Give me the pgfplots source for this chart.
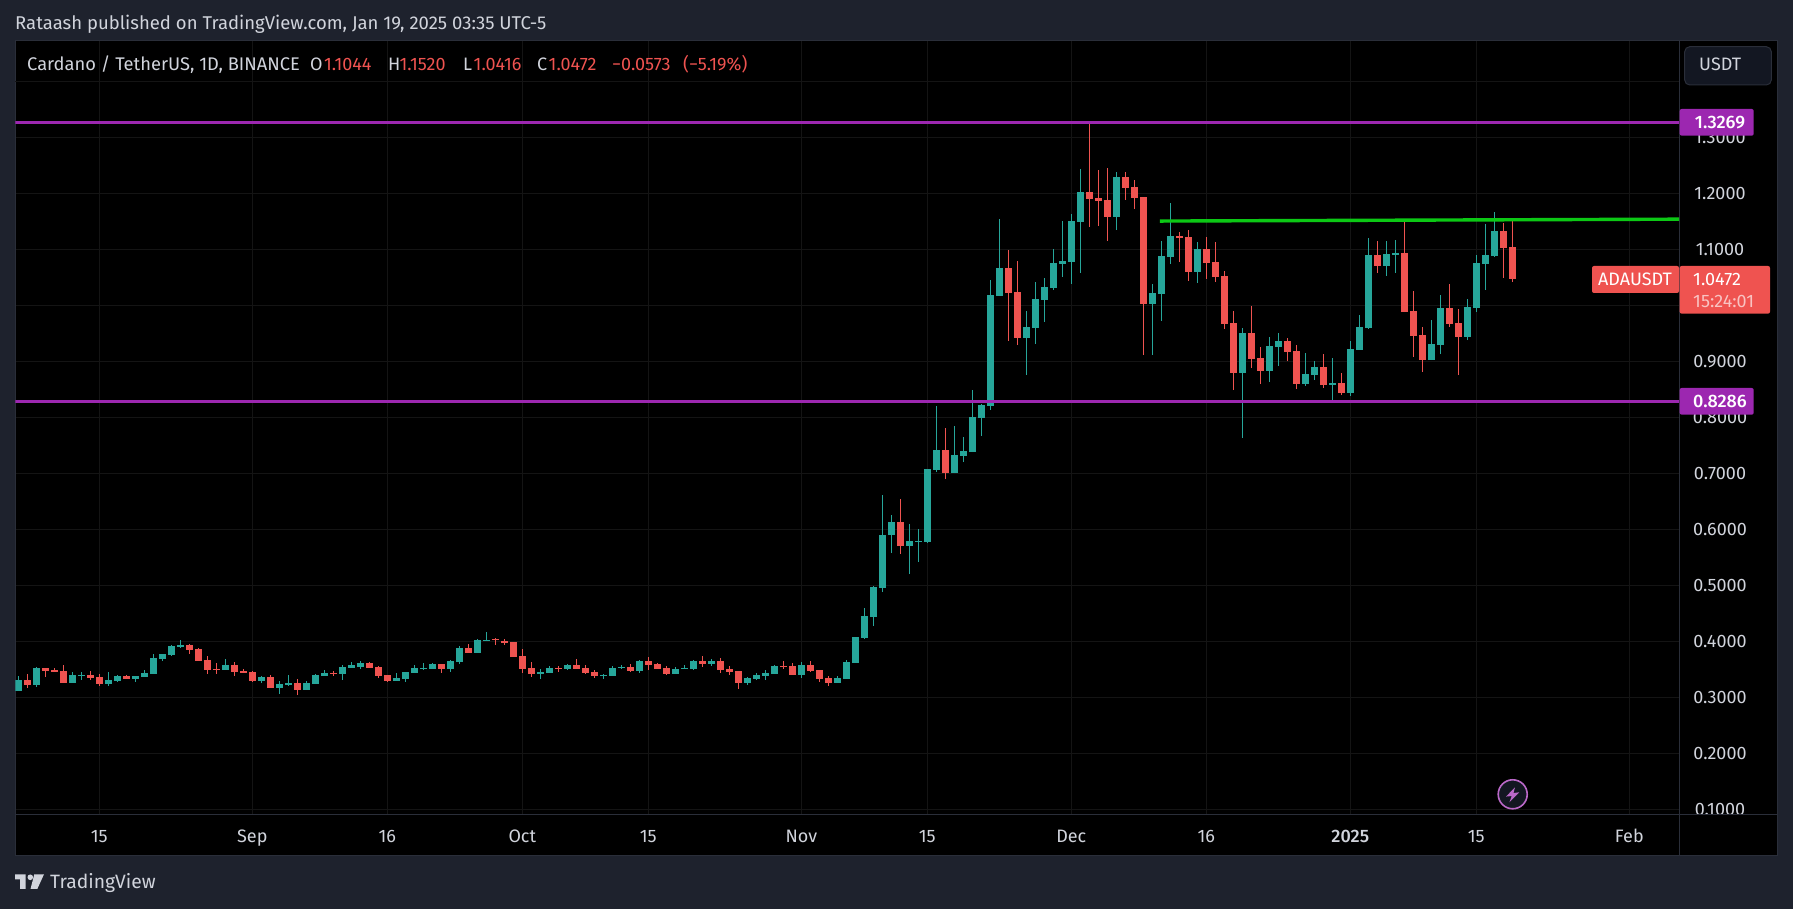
\documentclass[border=0pt]{standalone}
\usepackage{fontspec}
\setmainfont{Fira Sans}
\newfontfamily\med{Fira Sans Medium}
\usepackage{pgfplots}
\usepackage{pgfplotstable}
\pgfplotsset{compat=1.18}

\definecolor{pagebg}{HTML}{1E222D}
\definecolor{panelln}{HTML}{2A2E39}
\definecolor{gridc}{HTML}{141414}
\definecolor{txt}{HTML}{D1D4DC}
\definecolor{txtdim}{HTML}{B2B5BE}
\definecolor{upc}{HTML}{26A69A}
\definecolor{downc}{HTML}{EF5350}
\definecolor{lvl}{HTML}{9C27B0}
\definecolor{trend}{HTML}{0CC815}
\definecolor{btn}{HTML}{131722}

% x = days after 15 Aug 2024, one pixel = one pt
\pgfplotstableread{
x O H L C
-9 .3113 .3381 .3113 .3309
-7 .3220 .3542 .3184 .3524
-3 .3256 .3452 .3256 .3399
-2 .3387 .3452 .3309 .3399
1 .3238 .3452 .3202 .3309
2 .3292 .3399 .3274 .3381
4 .3327 .3381 .3274 .3381
5 .3363 .3488 .3363 .3434
6 .3417 .3774 .3417 .3702
7 .3684 .3774 .3649 .3774
8 .3756 .3934 .3738 .3917
9 .3899 .4024 .3881 .3934
14 .3488 .3684 .3488 .3577
18 .3292 .3381 .3256 .3363
20 .3167 .3292 .3059 .3238
21 .3220 .3399 .3202 .3256
23 .3131 .3292 .3131 .3256
24 .3238 .3417 .3238 .3399
25 .3381 .3488 .3381 .3434
27 .3417 .3577 .3309 .3542
28 .3524 .3631 .3524 .3577
29 .3542 .3649 .3506 .3613
33 .3292 .3434 .3292 .3345
34 .3327 .3452 .3274 .3452
35 .3434 .3577 .3434 .3524
36 .3512 .3613 .3488 .3524
37 .3506 .3613 .3506 .3595
39 .3506 .3667 .3452 .3649
40 .3631 .3917 .3595 .3881
42 .3792 .4042 .3792 .4024
43 .4006 .4167 .4006 .4024
49 .3417 .3506 .3327 .3452
50 .3434 .3559 .3434 .3524
52 .3506 .3595 .3488 .3577
56 .3387 .3417 .3327 .3405
57 .3381 .3559 .3381 .3524
58 .3524 .3577 .3506 .3542
60 .3470 .3667 .3434 .3649
64 .3417 .3542 .3417 .3506
65 .3506 .3577 .3506 .3524
66 .3506 .3667 .3488 .3649
68 .3595 .3684 .3559 .3649
72 .3256 .3363 .3220 .3345
73 .3327 .3434 .3309 .3399
74 .3381 .3488 .3309 .3434
75 .3417 .3577 .3417 .3559
78 .3399 .3631 .3345 .3577
82 .3256 .3381 .3256 .3345
83 .3327 .3667 .3327 .3631
84 .3613 .4077 .3613 .4077
85 .4059 .4595 .4042 .4452
86 .4434 .4987 .4273 .4969
87 .4951 .6612 .4880 .5898
88 .5898 .6255 .5576 .6130
90 .5701 .6094 .5201 .5791
91 .5773 .6005 .5416 .5791
92 .5773 .7076 .5755 .7076
93 .7059 .8201 .7023 .7416
95 .7005 .7844 .7005 .7326
96 .7309 .7648 .7201 .7398
97 .7380 .8487 .7380 .8005
98 .7987 .8237 .7666 .8219
99 .8202 1.0452 .8131 1.0184
100 1.0167 1.1542 1.0167 1.0667
103 .9417 .9899 .8756 .9613
104 .9595 1.0417 .9309 1.0113
105 1.0095 1.0488 .9702 1.0327
106 1.0309 1.1006 1.0274 1.0756
107 1.0738 1.1506 1.0506 1.0792
108 1.0774 1.1631 1.0381 1.1506
109 1.1488 1.2434 1.0577 1.2024
113 1.1577 1.2381 1.1345 1.2292
117 1.0024 1.0381 .9113 1.0220
118 1.0202 1.1149 .9720 1.0881
119 1.0863 1.1827 1.0738 1.1238
122 1.0595 1.1131 1.0399 1.1006
127 .8791 .9595 .7630 .9505
130 .8827 .9434 .8630 .9273
131 .9255 .9505 .8916 .9363
134 .8595 .9148 .8559 .8773
135 .8755 .9005 .8666 .8898
137 .8577 .9059 .8309 .8613
139 .8434 .9363 .8380 .9220
140 .9202 .9827 .9202 .9613
141 .9595 1.1202 .9577 1.0898
143 1.0702 1.1148 1.0523 1.0916
144 1.0898 1.1166 1.0577 1.0934
148 .9023 .9738 .9023 .9309
149 .9291 1.0184 .9130 .9952
152 .9434 1.0113 .9380 .9970
153 .9952 1.0898 .9880 1.0755
154 1.0738 1.1452 1.0273 1.0898
155 1.0880 1.1666 1.0863 1.1327
}\upT

\pgfplotstableread{
x O H L C
-8 .3309 .3417 .3173 .3220
-6 .3524 .3524 .3363 .3470
-5 .3488 .3524 .3452 .3452
-4 .3470 .3577 .3256 .3256
-1 .3399 .3470 .3309 .3345
0 .3363 .3417 .3202 .3238
3 .3381 .3399 .3327 .3327
10 .3934 .3952 .3774 .3845
11 .3863 .3881 .3649 .3649
12 .3667 .3738 .3417 .3488
13 .3506 .3613 .3417 .3494
15 .3577 .3631 .3381 .3452
16 .3470 .3506 .3434 .3434
17 .3452 .3464 .3274 .3292
19 .3363 .3399 .3167 .3167
22 .3256 .3327 .3042 .3131
26 .3440 .3470 .3381 .3428
30 .3613 .3631 .3524 .3524
31 .3542 .3559 .3345 .3381
32 .3399 .3399 .3274 .3292
38 .3595 .3595 .3434 .3506
41 .3881 .3952 .3792 .3792
44 .4042 .4059 .3934 .4024
45 .4006 .4042 .3934 .3970
46 .3988 .3988 .3720 .3720
47 .3738 .3863 .3434 .3506
48 .3524 .3631 .3363 .3417
51 .3524 .3559 .3452 .3506
53 .3577 .3684 .3506 .3506
54 .3524 .3577 .3417 .3434
55 .3452 .3488 .3345 .3381
59 .3542 .3595 .3452 .3470
61 .3649 .3720 .3488 .3577
62 .3595 .3613 .3506 .3506
63 .3524 .3559 .3399 .3417
67 .3649 .3738 .3542 .3595
69 .3649 .3702 .3434 .3488
70 .3506 .3559 .3399 .3452
71 .3470 .3470 .3149 .3256
76 .3559 .3649 .3506 .3542
77 .3559 .3613 .3399 .3399
79 .3577 .3649 .3452 .3470
80 .3488 .3488 .3274 .3327
81 .3345 .3381 .3202 .3256
89 .6130 .6541 .5559 .5701
94 .7416 .7809 .6898 .7005
101 1.0667 1.0988 .9363 1.0220
102 1.0238 1.0792 .9292 .9417
110 1.2024 1.3268 1.1399 1.1899
111 1.1917 1.2417 1.1417 1.1863
112 1.1881 1.2452 1.1149 1.1577
114 1.2292 1.2381 1.1881 1.2095
115 1.2113 1.2238 1.1720 1.1917
116 1.1934 1.1934 .9113 1.0024
120 1.1238 1.1309 1.0774 1.1202
121 1.1220 1.1345 1.0434 1.0595
123 1.1006 1.1220 1.0470 1.0756
124 1.0773 1.1130 1.0416 1.0505
125 1.0523 1.0613 .9577 .9666
126 .9684 .9898 .8488 .8791
128 .9505 .9988 .8880 .9041
129 .9059 .9255 .8595 .8827
132 .9363 .9416 .9005 .9166
133 .9184 .9291 .8505 .8595
136 .8898 .9130 .8523 .8577
138 .8613 .8791 .8398 .8434
142 1.0898 1.1148 1.0577 1.0702
145 1.0934 1.1523 .9880 .9880
146 .9898 1.0255 .9077 .9452
147 .9470 .9613 .8809 .9023
150 .9952 1.0380 .9613 .9666
151 .9684 .9934 .8755 .9434
156 1.1327 1.1470 1.0488 1.1023
157 1.1044 1.1520 1.0416 1.0472
}\downT

\newcommand{\tv}{\fontsize{18}{21}\selectfont}

\pgfplotsset{
  wick/.style={draw=none, mark=none, forget plot,
    error bars/.cd, y dir=plus, y explicit, error mark=none,
    error bar style={draw=#1, line width=1pt}},
  body/.style={draw=none, mark=none, forget plot,
    error bars/.cd, y dir=plus, y explicit, error mark=none,
    error bar style={draw=#1, line width=7pt}},
}

\begin{document}
\begin{tikzpicture}[x=1pt,y=1pt]
\useasboundingbox (0,0) rectangle (1793,909);
\fill[pagebg] (0,0) rectangle (1793,909);
\filldraw[fill=black, draw=panelln, line width=1pt] (15.5,53.3) rectangle (1777.7,868);

\begin{axis}[
  at={(15.5pt,94.7pt)}, anchor=south west,
  scale only axis, width=1663.5pt, height=773.3pt,
  xmin=-9.311, xmax=175.52, ymin=0.09107, ymax=1.47196,
  axis line style={draw=panelln, line width=1pt},
  grid=major, grid style={draw=gridc, line width=1pt},
  major tick length=0pt,
  xtick={0,17,32,47,61,78,92,108,123,139,153,170},
  xticklabels={15,Sep,16,Oct,15,Nov,15,Dec,16,{\med 2025},15,Feb},
  ytick={0.1,0.2,0.3,0.4,0.5,0.6,0.7,0.8,0.9,1.0,1.1,1.2,1.3},
  extra y ticks={1.4}, extra y tick labels={},
  extra tick style={grid=major},
  yticklabel pos=right,
  tick label style={font=\tv, text=txt},
  xticklabel style={anchor=base, yshift=-28pt},
  yticklabel style={anchor=base, xshift=41pt, yshift=-6.2pt,
    /pgf/number format/.cd, fixed, fixed zerofill, precision=4, assume math mode=true},
]
% wicks
\addplot[wick=upc] table[x=x, y=L, y error plus expr=\thisrow{H}-\thisrow{L}] {\upT};
\addplot[wick=downc] table[x=x, y=L, y error plus expr=\thisrow{H}-\thisrow{L}] {\downT};
% bodies
\addplot[body=upc] table[x=x, y=O, y error plus expr=\thisrow{C}-\thisrow{O}] {\upT};
\addplot[body=downc] table[x=x, y=C, y error plus expr=\thisrow{O}-\thisrow{C}] {\downT};
% drawn levels
\addplot[lvl, line width=2.6pt, forget plot] coordinates {(-9.311,1.3269) (175.52,1.3269)};
\addplot[lvl, line width=2.6pt, forget plot] coordinates {(-9.311,0.8286) (175.52,0.8286)};
\addplot[trend, line width=3.4pt, forget plot] coordinates {(117.85,1.1504) (175.52,1.1538)};
\end{axis}

% corner under the price scale, hides the lower half of 0.1000
\filldraw[fill=black, draw=panelln, line width=1pt] (1679,53.3) rectangle (1777.7,94.7);

% header and legend
\node[anchor=base west, inner sep=0, text=txt, font=\fontsize{18.5}{21}\selectfont] at (15,879.5) {Rataash published on TradingView.com, Jan 19, 2025 03:35 UTC-5};
\node[anchor=base west, inner sep=0, text=txt, font=\fontsize{18.3}{21}\selectfont] at (27,838) {Cardano / TetherUS, 1D, BINANCE};
\node[anchor=base west, inner sep=0, text=txt, font=\tv] at (310,838) {O};
\node[anchor=base west, inner sep=0, text=downc, font=\tv] at (324,838) {1.1044};
\node[anchor=base west, inner sep=0, text=txt, font=\tv] at (388,838) {H};
\node[anchor=base west, inner sep=0, text=downc, font=\tv] at (399.5,838) {1.1520};
\node[anchor=base west, inner sep=0, text=txt, font=\tv] at (463,838) {L};
\node[anchor=base west, inner sep=0, text=downc, font=\tv] at (473.5,838) {1.0416};
\node[anchor=base west, inner sep=0, text=txt, font=\tv] at (537,838) {C};
\node[anchor=base west, inner sep=0, text=downc, font=\tv] at (548.5,838) {1.0472};
\node[anchor=base west, inner sep=0, text=downc, font=\tv] at (612,838) {−0.0573};
\node[anchor=base west, inner sep=0, text=downc, font=\tv] at (683,838) {(−5.19\%)};

% price tags
\fill[lvl, rounded corners=2pt] (1679.7,773.3) rectangle (1753.7,800);
\node[text=white, font=\tv\med, inner sep=0, anchor=base] at (1720,780.5) {1.3269};
\fill[lvl, rounded corners=2pt] (1679.7,494.3) rectangle (1753.7,521);
\node[text=white, font=\tv\med, inner sep=0, anchor=base] at (1720,501.5) {0.8286};
\fill[downc, rounded corners=2pt] (1592,616) rectangle (1679,643);
\node[text=white, font=\tv, inner sep=0, anchor=base] at (1635,623.5) {ADAUSDT};
\fill[downc, rounded corners=2pt] (1679.7,595.3) rectangle (1770,643);
\node[text=white, font=\tv, inner sep=0, anchor=base west] at (1693,623.5) {1.0472};
\node[text=white!65!downc, font=\tv, inner sep=0, anchor=base west] at (1693,601.5) {15:24:01};

% unit button
\filldraw[fill=btn, draw=panelln, line width=1pt, rounded corners=5pt] (1684.7,824) rectangle (1771.3,862.3);
\node[text=txt, font=\tv, inner sep=0, anchor=base west] at (1699,838) {USDT};

% lightning badge
\filldraw[fill=btn, draw=lvl!70!white, line width=1.6pt] (1512.7,114.7) circle (14.5);
\fill[lvl!70!white, shift={(1512.7,114.7)}] (2.3,7) -- (-6.7,-2.3) -- (-1,-1.7) -- (-3.3,-8) -- (6.7,2) -- (0.7,1.3) -- cycle;

% logo
\fill[txt] (15,34.7) -- (25.7,34.7) -- (25.7,20) -- (20,20) -- (20,29.7) -- (15,29.7) -- cycle;
\fill[txt] (30.3,31.7) circle (2.8);
\fill[txt] (34.3,34.7) -- (44,34.7) -- (37.3,20) -- (30.5,20) -- cycle;
\node[text=txt, font=\fontsize{19.3}{24}\selectfont, inner sep=0, anchor=base west] at (50,20) {TradingView};
\end{tikzpicture}
\end{document}
